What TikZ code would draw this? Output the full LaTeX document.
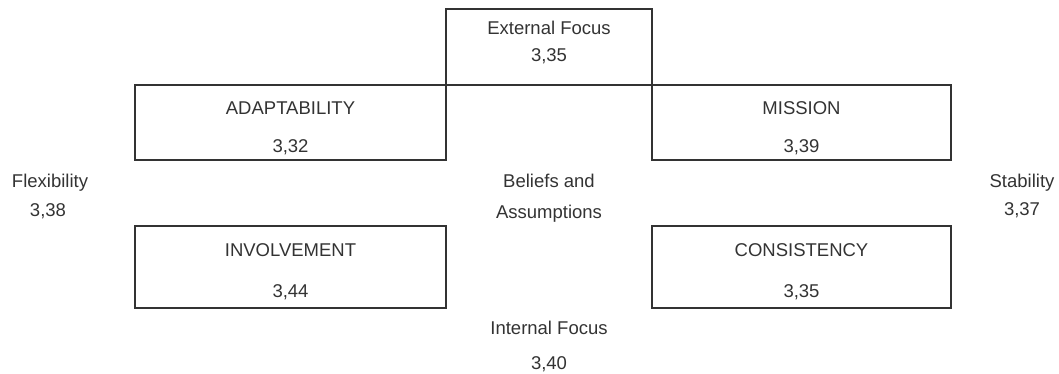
\documentclass[tikz,border=0pt]{standalone}
\usepackage{fontspec}
\setmainfont{Liberation Sans}
\definecolor{ink}{HTML}{333333}
\begin{document}
\begin{tikzpicture}[x=1pt,y=-1pt,
  box/.style={draw=ink, line width=1.2pt, inner sep=0pt, rectangle},
  lbl/.style={text=ink, inner sep=0pt, text height=13.3pt, text depth=0pt, font=\fontsize{18.5}{22}\selectfont}]
\useasboundingbox (0,0) rectangle (1059,374);
% boxes
\node[box, minimum width=206pt, minimum height=76pt] (ext) at (549,47) {};
\node[box, minimum width=311pt, minimum height=75pt] (adapt) at (290.5,122.5) {};
\node[box, minimum width=299pt, minimum height=75pt] (mission) at (801.5,122.5) {};
\node[box, minimum width=311pt, minimum height=82pt] (invol) at (290.5,267) {};
\node[box, minimum width=299pt, minimum height=82pt] (consis) at (801.5,267) {};
% texts
\node[lbl] (extT) at (549,28) {External Focus};
\node[lbl] (extV) at (549,55) {3,35};
\node[lbl] (adaptT) at (290.5,108) {ADAPTABILITY};
\node[lbl] (adaptV) at (290.5,146) {3,32};
\node[lbl] (missT) at (801.5,108) {MISSION};
\node[lbl] (missV) at (801.5,146) {3,39};
\node[lbl] (flexT) at (50,181) {Flexibility};
\node[lbl] (flexV) at (48,210) {3,38};
\node[lbl] (belT) at (549,181) {Beliefs and};
\node[lbl] (belV) at (549,212) {Assumptions};
\node[lbl] (stabT) at (1022,181) {Stability};
\node[lbl] (stabV) at (1022,209) {3,37};
\node[lbl] (involT) at (290.5,250) {INVOLVEMENT};
\node[lbl] (involV) at (290.5,291) {3,44};
\node[lbl] (consT) at (801.5,250) {CONSISTENCY};
\node[lbl] (consV) at (801.5,291) {3,35};
\node[lbl] (intT) at (549,328) {Internal Focus};
\node[lbl] (intV) at (549,363) {3,40};
\end{tikzpicture}
\end{document}
